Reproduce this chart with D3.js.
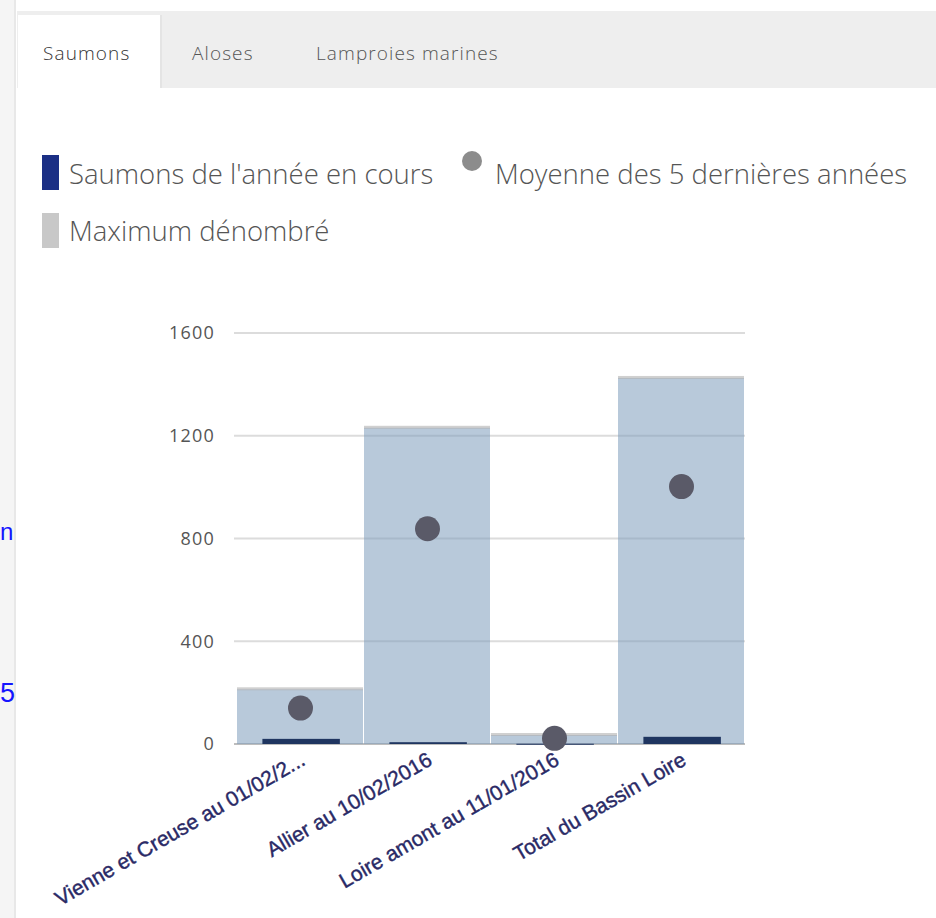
<!DOCTYPE html>
<html><head><meta charset="utf-8">
<script src="https://cdn.jsdelivr.net/npm/d3@7/dist/d3.min.js"></script>
<style>body{margin:0;background:#fff;overflow:hidden}svg{display:block}</style>
</head><body><svg id="c" width="936" height="918"></svg>
<script>
const categories = ["Vienne et Creuse au 01/02/2...", "Allier au 10/02/2016", "Loire amont au 11/01/2016", "Total du Bassin Loire"];
const maxValues = [213, 1231, 35, 1425];
const meanValues = [140, 838, 22, 1002];
const currentValues = [20, 7, 1, 28];
const yTicks = [0, 400, 800, 1200, 1600];
const tabs = ["Saumons", "Aloses", "Lamproies marines"];
const legendItems = ["Saumons de l'année en cours", "Moyenne des 5 dernières années", "Maximum dénombré"];

const svg = d3.select("#c");
svg.append("rect").attr("width",936).attr("height",918).attr("fill","#fff");
// page strip on left
svg.append("rect").attr("x",0).attr("y",0).attr("width",14).attr("height",918).attr("fill","#f5f5f5");
svg.append("rect").attr("x",14).attr("y",0).attr("width",2).attr("height",918).attr("fill","#e8e8e8");
// stray blue text from underlying page
svg.append("text").attr("x",0).attr("y",540).text("n").attr("font-family","Liberation Sans, Arial").attr("font-size",24).attr("fill","#1515ff");
svg.append("text").attr("x",0).attr("y",702).text("5").attr("font-family","Liberation Sans, Arial").attr("font-size",27).attr("fill","#1515ff");

// tabs
svg.append("rect").attr("x",17).attr("y",11).attr("width",919).attr("height",77).attr("fill","#eeeeee");
svg.append("rect").attr("x",18).attr("y",15).attr("width",142).attr("height",75).attr("fill","#fff");
svg.append("rect").attr("x",160).attr("y",15).attr("width",2).attr("height",73).attr("fill","#e4e4e4");
const tabX = [43, 192, 316];
svg.selectAll(".tab").data(tabs).join("text")
  .attr("x",(d,i)=>tabX[i]).attr("y",60).text(d=>d)
  .attr("font-family","Open Sans").attr("font-weight",300).attr("font-size",19)
  .attr("letter-spacing",1.1).attr("fill",(d,i)=>i===0?"#333":"#555");

// legend
const legFont = {family:"Open Sans", size:27.5};
svg.append("rect").attr("x",42).attr("y",155).attr("width",17).attr("height",35).attr("fill","#1b2f85");
svg.append("text").attr("x",69).attr("y",184).text(legendItems[0])
  .attr("font-family",legFont.family).attr("font-weight",300).attr("font-size",legFont.size).attr("fill","#555");
svg.append("circle").attr("cx",472).attr("cy",161).attr("r",10).attr("fill","#8c8c8c");
svg.append("text").attr("x",495).attr("y",184).text(legendItems[1])
  .attr("font-family",legFont.family).attr("font-weight",300).attr("font-size",legFont.size).attr("fill","#555");
svg.append("rect").attr("x",42).attr("y",213).attr("width",17).attr("height",35).attr("fill","#c8c8c8");
svg.append("text").attr("x",69).attr("y",241).text(legendItems[2])
  .attr("font-family",legFont.family).attr("font-weight",300).attr("font-size",legFont.size).attr("fill","#555");

// chart
const x = d3.scaleBand().domain(categories).range([237,745]).paddingInner(0).paddingOuter(0);
const y = d3.scaleLinear().domain([0,1600]).range([744,333]);

const grid = svg.append("g");
grid.selectAll("line").data(yTicks).join("line")
  .attr("x1",234).attr("x2",745).attr("y1",d=>y(d)).attr("y2",d=>y(d))
  .attr("stroke",d=>d===0?"#bdbdbd":"#dcdcdc").attr("stroke-width",2);

const yAxis = d3.axisLeft(y).tickValues(yTicks).tickFormat(d3.format("d")).tickSize(0).tickPadding(0);
const ya = svg.append("g").attr("transform","translate(215,0)").call(yAxis);
ya.select(".domain").remove();
ya.selectAll("text").attr("font-family","Open Sans").attr("font-size",18).attr("letter-spacing",1.2).attr("fill","#555");

// max bars
svg.append("g").selectAll("rect").data(maxValues).join("rect")
  .attr("x",(d,i)=>x(categories[i])).attr("width",x.bandwidth()-1)
  .attr("y",d=>y(d)).attr("height",d=>y(0)-y(d))
  .attr("fill","#7d9cbc").attr("fill-opacity",0.55);
svg.append("g").selectAll("rect").data(maxValues).join("rect")
  .attr("x",(d,i)=>x(categories[i])).attr("width",x.bandwidth()-1)
  .attr("y",d=>y(d)-2).attr("height",3)
  .attr("fill","#b0b0b0").attr("fill-opacity",0.6);

// current year bars
const bw = x.bandwidth();
svg.append("g").selectAll("rect").data(currentValues).join("rect")
  .attr("x",(d,i)=>x(categories[i])+bw*0.2).attr("width",bw*0.61)
  .attr("y",d=>y(d)).attr("height",d=>Math.max(y(0)-y(d),1))
  .attr("fill","#1f3560");

// mean dots
svg.append("g").selectAll("circle").data(meanValues).join("circle")
  .attr("cx",(d,i)=>x(categories[i])+bw/2).attr("cy",d=>y(d)).attr("r",12.5)
  .attr("fill","#5a5a68");

// x labels
const xAxis = d3.axisBottom(x).tickSize(0).tickPadding(0);
const xa = svg.append("g").attr("transform","translate(0,744)").call(xAxis);
xa.select(".domain").remove();
xa.selectAll("text")
  .attr("font-family","Liberation Sans, Arial").attr("font-size",21)
  .attr("fill","#2a2a66").attr("stroke","#2a2a66").attr("stroke-width",0.4)
  .attr("text-anchor","end").attr("dy",0).attr("y",0)
  .attr("transform","translate(6,20) rotate(-30)");
</script></body></html>
